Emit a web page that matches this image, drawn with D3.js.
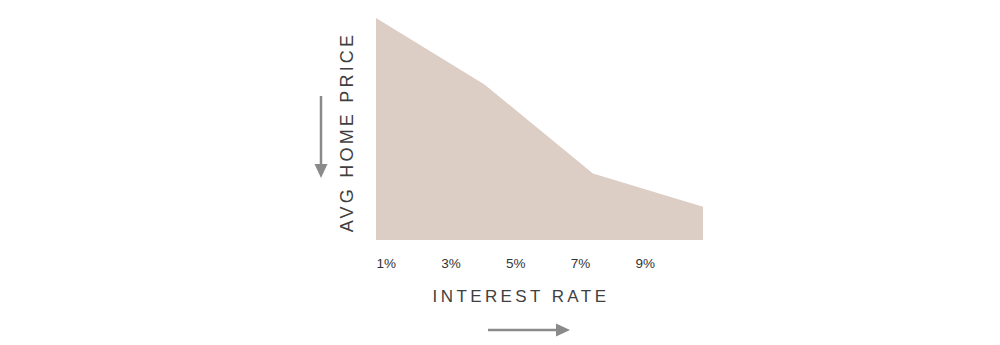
<!DOCTYPE html>
<html>
<head>
<meta charset="utf-8">
<script src="https://cdn.jsdelivr.net/npm/d3@7"></script>
<style>
  body { margin: 0; background: #fff; }
  svg { display: block; }
</style>
</head>
<body>
<div id="chart"></div>
<script>
// stylized chart: price falls as rate rises
const rates = [0.7, 4.05, 7.4, 10.8];
const prices = [100, 70, 30, 15];
const tickRates = [1, 3, 5, 7, 9];

const width = 1000, height = 345;
const margin = { top: 18, left: 376, right: 297, bottom: 105 };

const svg = d3.select("#chart").append("svg")
  .attr("width", width)
  .attr("height", height);

const xScale = d3.scaleLinear()
  .domain([0.7, 10.8])
  .range([margin.left, width - margin.right]);

const yScale = d3.scaleLinear()
  .domain([0, 100])
  .range([height - margin.bottom, margin.top]);

const data = rates.map((r, i) => ({ rate: r, price: prices[i] }));

const area = d3.area()
  .x(d => xScale(d.rate))
  .y0(yScale(0))
  .y1(d => yScale(d.price));

svg.append("path")
  .datum(data)
  .attr("fill", "#dccdc5")
  .attr("d", area);

// x axis - labels only
const xAxis = svg.append("g")
  .attr("transform", "translate(0," + (yScale(0) + 15) + ")")
  .call(d3.axisBottom(xScale).tickValues(tickRates).tickSize(0).tickFormat(d => d + "%"));
xAxis.select(".domain").remove();
xAxis.selectAll("text")
  .attr("font-family", "Liberation Sans, Arial, sans-serif")
  .attr("font-size", "13.5px")
  .attr("fill", "#333");

// titles
svg.append("text")
  .attr("x", 521)
  .attr("y", 302)
  .attr("text-anchor", "middle")
  .attr("font-family", "Liberation Sans, Arial, sans-serif")
  .attr("font-size", "17px")
  .attr("letter-spacing", "3.4px")
  .attr("fill", "#3f3f3f")
  .text("INTEREST RATE");

svg.append("text")
  .attr("transform", "translate(353,132) rotate(-90)")
  .attr("text-anchor", "middle")
  .attr("font-family", "Liberation Sans, Arial, sans-serif")
  .attr("font-size", "18px")
  .attr("letter-spacing", "3.2px")
  .attr("fill", "#3f3f3f")
  .text("AVG HOME PRICE");

// arrows
const arrowColor = "#8a8a8a";
svg.append("line")
  .attr("x1", 321).attr("y1", 96)
  .attr("x2", 321).attr("y2", 166)
  .attr("stroke", arrowColor).attr("stroke-width", 2.5);
svg.append("path")
  .attr("d", "M314.5,164 L327.5,164 L321,178 Z")
  .attr("fill", arrowColor);

svg.append("line")
  .attr("x1", 488).attr("y1", 330)
  .attr("x2", 558).attr("y2", 330)
  .attr("stroke", arrowColor).attr("stroke-width", 2.5);
svg.append("path")
  .attr("d", "M556,323.5 L556,336.5 L570,330 Z")
  .attr("fill", arrowColor);
</script>
</body>
</html>
